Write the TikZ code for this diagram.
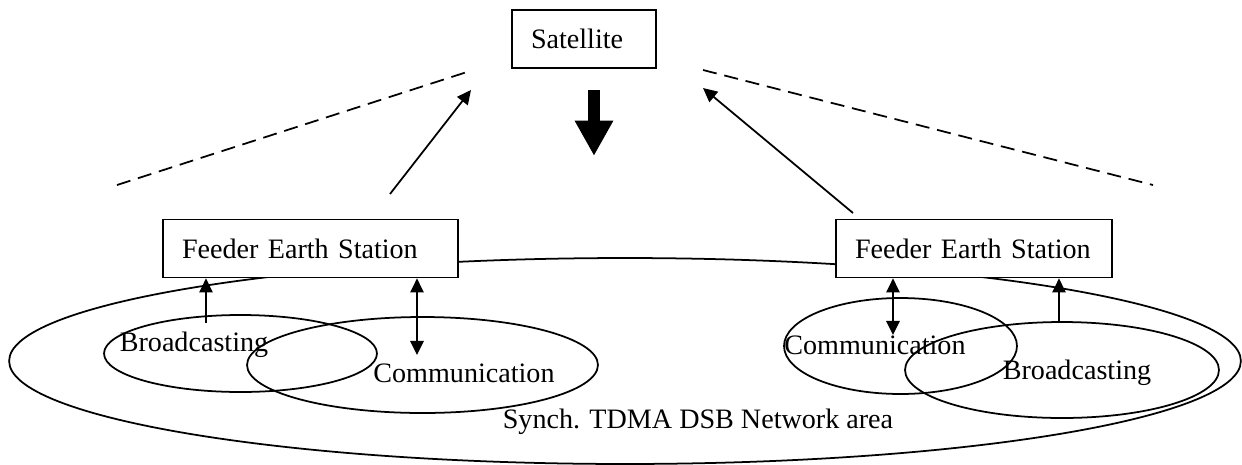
\documentclass[tikz,border=0pt]{standalone}
\usepackage{fontspec}
\setmainfont{Liberation Serif}
\usepackage{tikz}
\usetikzlibrary{calc, positioning, arrows.meta, shapes.geometric}
\tikzset{
    station/.style={rectangle, draw=black, line width=1pt, fill=white, align=left, text width=5.14cm, inner xsep=0.38cm, inner ysep=0pt, minimum height=1.16cm},
    zone/.style={ellipse, draw=black, line width=1pt, inner sep=0pt, outer sep=0pt},
    link/.style={-{Triangle[length=8pt, width=7.6pt]}, line width=1pt},
    duplex/.style={{Triangle[length=8pt, width=7.6pt]}-{Triangle[length=8pt, width=7.6pt]}, line width=1pt},
    beam/.style={dash pattern=on 8pt off 4.5pt, line width=1pt},
    downlink/.style={-{Triangle[length=20pt, width=20.5pt]}, line width=6.8pt}
}

\begin{document}
\begin{tikzpicture}[
        x=0.02cm, y=-0.02cm,
        font=\fontsize{16}{19}\selectfont
    ]
    \useasboundingbox (0,0) rectangle (1242,464);

    % --- NETWORK AREA (drawn first, boxes sit on it) ---
    \node[zone, minimum width=24.64cm, minimum height=4.12cm] (area) at (625,361) {};
    \node (areaText) at (698,422) {Synch. TDMA DSB Network area};

    % --- SATELLITE ---
    \node[station, text width=2.12cm] (sat) at (584,39) {Satellite};
    \draw[downlink] (sat.south) ++(10,21) coordinate (down0) -- ++(0,66) coordinate (down1);

    % Coverage edges
    \coordinate (edgeL0) at (117,185);
    \coordinate (edgeL1) at (467,72);
    \coordinate (edgeR0) at (703,70);
    \coordinate (edgeR1) at (1153,185);
    \draw[beam] (edgeL0) -- (edgeL1);
    \draw[beam] (edgeR0) -- (edgeR1);

    % --- FEEDER EARTH STATIONS ---
    \node[station] (fesL) at (310.5,248.5) {Feeder Earth Station};
    \node[station, text width=4.76cm] (fesR) at (974,248.5) {Feeder Earth Station};

    % Uplinks
    \coordinate (upL0) at (390,194);
    \coordinate (upL1) at (471,90);
    \coordinate (upR0) at (853,213);
    \coordinate (upR1) at (703,88);
    \draw[link] (upL0) -- (upL1);
    \draw[link] (upR0) -- (upR1);

    % --- LOCAL AREAS (Left Side) ---
    \node[zone, minimum width=5.46cm, minimum height=1.54cm] (bcL) at (240.5,353.5) {};
    \node[zone, minimum width=7.02cm, minimum height=1.92cm] (comL) at (422.5,365) {};
    \node (bcLText) at (194,345) {Broadcasting};
    \node (comLText) at (464,373) {Communication};

    \coordinate (bcLtop) at (206,323);
    \coordinate (comLin) at (417,355);
    \draw[link] (bcLtop) -- (bcLtop |- fesL.south);
    \draw[duplex] (comLin |- fesL.south) -- (comLin);

    % --- LOCAL AREAS (Right Side) ---
    \node[zone, minimum width=4.66cm, minimum height=1.92cm] (comR) at (900.5,346) {};
    \node[zone, minimum width=6.28cm, minimum height=1.92cm] (bcR) at (1062,370) {};
    \node (comRText) at (875,345) {Communication};
    \node (bcRText) at (1077,373) {Broadcasting};

    \coordinate (comRin) at (893,335);
    \coordinate (bcRtop) at (1059,323);
    \draw[duplex] (comRin |- fesR.south) -- (comRin);
    \draw[link] (bcRtop) -- (bcRtop |- fesR.south);

\end{tikzpicture}
\end{document}
